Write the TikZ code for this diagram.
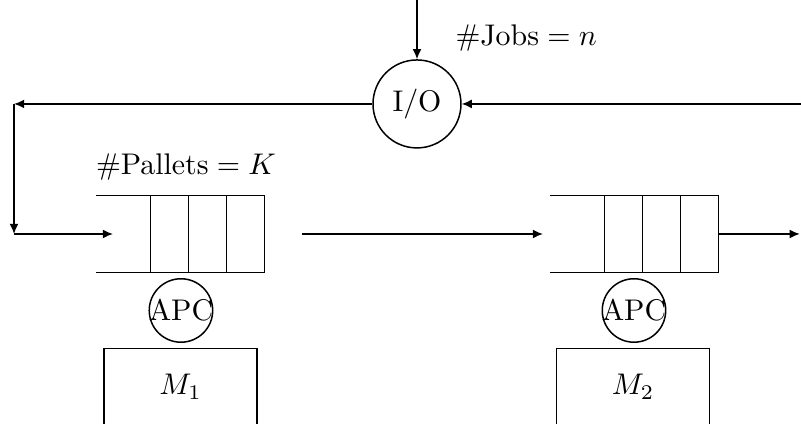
\documentclass[tikz,border=0pt]{standalone}
\usepackage{tikz}
\usetikzlibrary{arrows.meta, positioning, calc}

\begin{document}
\begin{tikzpicture}[x=1cm, y=1cm,
  flow/.style={-{Latex[length=3.4pt, width=3pt]}, line width=0.5pt},
  buffer/.style={minimum width=1.965cm, minimum height=0.894cm, inner sep=0pt},
  apc/.style={circle, draw, line width=0.5pt, inner sep=-0.6pt},
  machine/.style={rectangle, draw, line width=0.5pt, anchor=north, minimum width=1.8cm,
    inner ysep=0pt, text height=0.54cm, text depth=1.2cm}]
\useasboundingbox (0,0) rectangle (9.424,4.988);
\clip (0,0) rectangle (9.424,4.988);
% I/O station and job count
\node[circle, draw, line width=0.5pt, minimum size=1.035cm, inner sep=0pt] (io) at (4.906,3.765) {I/O};
\coordinate (jobsin) at (4.906,4.988);
\node[anchor=west] (jobs) at (5.235,4.54) {\#Jobs${}=n$};
\node (pallets) at (2.188,3.024) {\#Pallets${}=K$};
% buffers
\foreach \q/\x in {q1/2.124, q2/7.465} {
  \node[buffer] (\q) at (\x,2.235) {};
  \draw[line width=0.5pt] (\q.north west) -- (\q.north east) (\q.south west) -- (\q.south east);
  \foreach \k in {0,1,2,3}
    \draw[line width=0.5pt] ($(\q.north east)-(\k*0.447,0)$) -- ($(\q.south east)-(\k*0.447,0)$);
}
% stations
\node[apc] (apc1) at (2.129,1.335) {APC};
\node[apc] (apc2) at (7.459,1.335) {APC};
\node[machine] (m1) at (2.124,0.894) {$M_1$};
\node[machine] (m2) at (7.447,0.894) {$M_2$};
% flow of pallets
\coordinate (topleft) at (0.165,3.765);
\coordinate (botleft) at (0.165,2.235);
\coordinate (q1in) at (1.329,2.235);
\coordinate (q1out) at (3.553,2.235);
\coordinate (q2in) at (6.388,2.235);
\coordinate (exit) at (9.41,2.235);
\coordinate (return) at (9.424,3.765);
\draw[flow] (jobsin) -- (io);
\draw[flow] (io) -- (topleft);
\draw[flow] (topleft) -- (botleft);
\draw[flow] (botleft) -- (q1in);
\draw[flow] (q1out) -- (q2in);
\draw[flow] (q2.east) -- (exit);
\draw[flow] (return) -- (io);
\end{tikzpicture}
\end{document}
